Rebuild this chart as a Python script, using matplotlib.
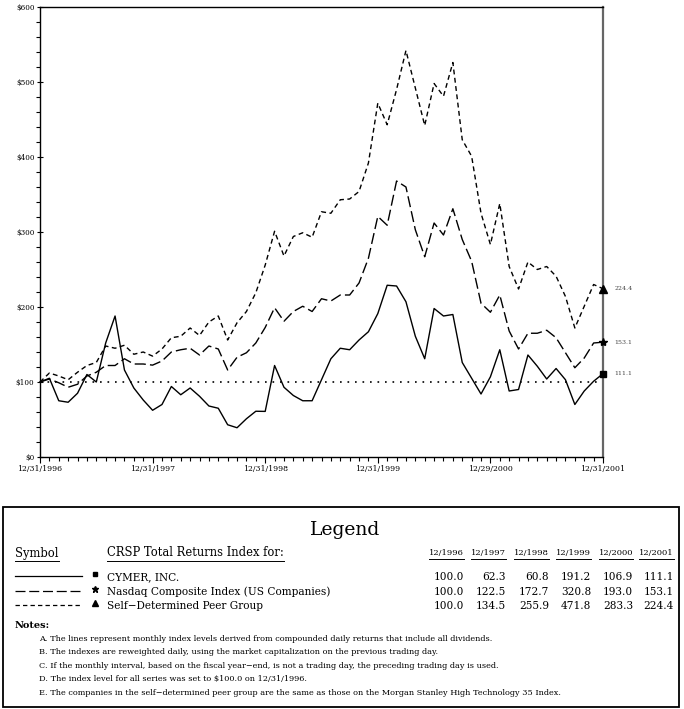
import numpy as np
import matplotlib
matplotlib.use("Agg")
import matplotlib.pyplot as plt
from matplotlib.lines import Line2D
from matplotlib.patches import Rectangle
from matplotlib.ticker import MultipleLocator, FixedLocator

plt.rcParams['font.family'] = ['DejaVu Serif']

# monthly index levels, 12/1996 .. 12/2001 (61 points)
cymer = [100, 105, 75, 73, 85, 110, 100, 152, 188, 116, 92, 76,
         62.3, 70, 94, 83, 92, 81, 68, 65, 43, 39, 51, 61,
         60.8, 122, 93, 82, 75, 75, 103, 131, 145, 143, 156, 167,
         191.2, 229, 228, 207, 161, 131, 198, 188, 190, 126, 105, 84,
         106.9, 143, 88, 90, 136, 121, 104, 118, 103, 70, 88, 101,
         111.1]
nasdaq = [100, 104, 99, 93, 97, 108, 113, 122, 122, 131, 124, 124,
          122.5, 128, 140, 143, 145, 136, 148, 144, 116, 133, 139, 152,
          172.7, 199, 181, 194, 201, 194, 211, 208, 216, 216, 232, 265,
          320.8, 309, 368, 360, 303, 267, 312, 296, 331, 290, 261, 205,
          193.0, 216, 168, 144, 165, 165, 169, 159, 139, 119, 132, 152,
          153.1]
peer = [100, 112, 108, 103, 113, 122, 126, 148, 145, 149, 137, 140,
        134.5, 144, 159, 161, 172, 162, 180, 188, 156, 179, 194, 219,
        255.9, 301, 268, 294, 299, 293, 327, 325, 343, 344, 354, 392,
        471.8, 443, 490, 542, 492, 442, 498, 481, 526, 423, 401, 325,
        283.3, 338, 254, 224, 260, 250, 254, 241, 214, 172, 201, 230,
        224.4]

year_labels = ["12/31/1996", "12/31/1997", "12/31/1998", "12/31/1999", "12/29/2000", "12/31/2001"]
table_years = ["12/1996", "12/1997", "12/1998", "12/1999", "12/2000", "12/2001"]
series_names = ["CYMER, INC.", "Nasdaq Composite Index (US Companies)", "Self\u2212Determined Peer Group"]
table_values = [
    [100.0, 62.3, 60.8, 191.2, 106.9, 111.1],
    [100.0, 122.5, 172.7, 320.8, 193.0, 153.1],
    [100.0, 134.5, 255.9, 471.8, 283.3, 224.4],
]
notes = [
    "A. The lines represent monthly index levels derived from compounded daily returns that include all dividends.",
    "B. The indexes are reweighted daily, using the market capitalization on the previous trading day.",
    "C. If the monthly interval, based on the fiscal year\u2212end, is not a trading day, the preceding trading day is used.",
    "D. The index level for all series was set to $100.0 on 12/31/1996.",
    "E. The companies in the self\u2212determined peer group are the same as those on the Morgan Stanley High Technology 35 Index.",
]

W, H = 684, 709
fig = plt.figure(figsize=(W / 100, H / 100), dpi=100)


def fx(x):
    return x / W


def fy(y):
    return 1 - y / H


# main chart
ax = fig.add_axes([fx(40), fy(457), fx(603) - fx(40), fy(7) - fy(457)])
months = np.arange(len(cymer))
styles = [dict(ls='-', marker='s', ms=5),
          dict(ls=(0, (8, 3)), marker='*', ms=6),
          dict(ls=(0, (3.5, 2.5)), marker='^', ms=6)]
for vals, st in zip([cymer, nasdaq, peer], styles):
    ax.plot(months, vals, color='black', lw=1.0, ls=st['ls'], clip_on=False)
    ax.plot(months[-1], vals[-1], marker=st['marker'], ms=st['ms'], color='black',
            ls='none', clip_on=False, zorder=5)
    ax.annotate(f"{vals[-1]:.1f}", (months[-1], vals[-1]), xytext=(8, 0),
                textcoords='offset points', fontsize=4.5, color='#444444', va='center')

ax.axhline(100, color='black', lw=1.2, ls=(0, (1, 3.5)))
ax.set_xlim(0, 60)
ax.set_ylim(0, 600)
ax.yaxis.set_major_locator(MultipleLocator(100))
ax.yaxis.set_minor_locator(MultipleLocator(20))
ax.set_yticklabels([f"${int(v)}" for v in ax.get_yticks()])
ax.xaxis.set_major_locator(FixedLocator(np.arange(0, 61, 12)))
ax.xaxis.set_minor_locator(MultipleLocator(1))
ax.set_xticklabels(year_labels)
ax.tick_params(axis='both', which='major', length=4, width=0.8, pad=2)
ax.tick_params(axis='x', which='major', labelsize=5.6)
ax.tick_params(axis='y', which='major', labelsize=5.2)
ax.tick_params(axis='both', which='minor', length=3, width=0.8)
ax.tick_params(axis='y', direction='inout')
for s in ['left', 'bottom', 'top']:
    ax.spines[s].set_linewidth(1.0)
ax.spines['right'].set_color('#666666')
ax.spines['right'].set_linewidth(1.6)

# legend box
fig.patches.append(Rectangle((fx(3), fy(707)), fx(679) - fx(3), fy(507) - fy(707),
                             transform=fig.transFigure, fill=False, ec='black', lw=1.3))
fig.text(fx(345), fy(530), "Legend", fontsize=13.5, ha='center', va='center')

renderer = fig.canvas.get_renderer()


def underlined(x, y, s, size, ha='left'):
    t = fig.text(fx(x), fy(y), s, fontsize=size, ha=ha, va='center')
    bb = t.get_window_extent(renderer)
    yl = bb.y0 - 1.5
    fig.lines.append(Line2D([bb.x0 / W, bb.x1 / W], [yl / H, yl / H],
                            transform=fig.transFigure, color='black', lw=0.7))


underlined(15, 553, "Symbol", 8.3)
underlined(107, 553, "CRSP Total Returns Index for:", 8.3)
col_right = [464, 506, 549, 591, 633, 674]
for xr, lab in zip(col_right, table_years):
    underlined(xr, 553, lab, 6.0, ha='right')

row_y = [577, 592, 606]
for i, (name, vals, st) in enumerate(zip(series_names, table_values, styles)):
    y = row_y[i]
    fig.lines.append(Line2D([fx(15), fx(82)], [fy(y - 1), fy(y - 1)], transform=fig.transFigure,
                            color='black', lw=0.9, ls=st['ls']))
    fig.lines.append(Line2D([fx(95)], [fy(y - 3)], transform=fig.transFigure, color='black',
                            marker=st['marker'], ms=st['ms'] - 1.5, ls='none'))
    fig.text(fx(107), fy(y), name, fontsize=7.6, ha='left', va='center')
    for xr, v in zip(col_right, vals):
        fig.text(fx(xr), fy(y), f"{v:.1f}", fontsize=7.6, ha='right', va='center')

fig.text(fx(15), fy(625), "Notes:", fontsize=7, fontweight='bold', ha='left', va='center')
for k, note in enumerate(notes):
    fig.text(fx(39), fy(639 + 13.5 * k), note, fontsize=5.85, ha='left', va='center')

fig.savefig("out.png", dpi=100)
